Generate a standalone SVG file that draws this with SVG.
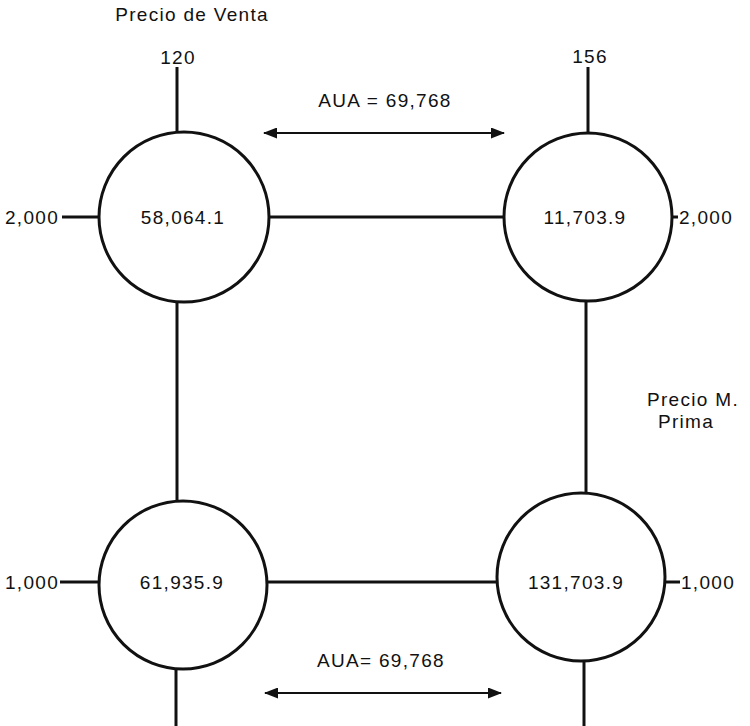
<svg xmlns="http://www.w3.org/2000/svg" width="750" height="726" viewBox="0 0 750 726">
<style>
.t{font-family:"Liberation Sans",Arial,sans-serif;font-size:19px;letter-spacing:1.3px;fill:#111}
.m{text-anchor:middle}
.e{text-anchor:end}
.n{fill:#fff;stroke:#111;stroke-width:3}
.c{stroke:#111;stroke-width:3;fill:none}
.a{stroke:#111;stroke-width:2.2;fill:none}
</style>
<defs>
<marker id="ah" viewBox="0 0 14 11" refX="13" refY="5.5" markerWidth="14" markerHeight="11" markerUnits="userSpaceOnUse" orient="auto-start-reverse">
<path d="M0,0 L14,5.5 L0,11 Z" fill="#111"/>
</marker>
</defs>
<rect width="750" height="726" fill="#fff"/>
<g id="connectors">
<line class="c" x1="177" y1="67" x2="177" y2="133"/>
<line class="c" x1="588" y1="67" x2="588" y2="133"/>
<line class="c" x1="62" y1="217" x2="99" y2="217"/>
<line class="c" x1="268" y1="217" x2="504" y2="217"/>
<line class="c" x1="672" y1="217" x2="678" y2="217"/>
<line class="c" x1="177" y1="301" x2="177" y2="502"/>
<line class="c" x1="586" y1="301" x2="586" y2="493"/>
<line class="c" x1="60" y1="582" x2="100" y2="582"/>
<line class="c" x1="266" y1="582" x2="497" y2="582"/>
<line class="c" x1="665" y1="582" x2="680" y2="582"/>
<line class="c" x1="176" y1="668" x2="176" y2="726"/>
<line class="c" x1="584" y1="661" x2="584" y2="726"/>
<line class="a" x1="264" y1="133" x2="504" y2="133" marker-start="url(#ah)" marker-end="url(#ah)"/>
<line class="a" x1="265" y1="693" x2="501" y2="693" marker-start="url(#ah)" marker-end="url(#ah)"/>
</g>
<g id="n-tl">
<circle class="n" cx="184" cy="217" r="85"/>
<text class="t m" x="183" y="224">58,064.1</text>
</g>
<g id="n-tr">
<circle class="n" cx="588" cy="217" r="84"/>
<text class="t m" x="585" y="224">11,703.9</text>
</g>
<g id="n-bl">
<circle class="n" cx="183" cy="585" r="84"/>
<text class="t m" x="182" y="589">61,935.9</text>
</g>
<g id="n-br">
<circle class="n" cx="581" cy="577" r="84"/>
<text class="t m" x="576" y="589">131,703.9</text>
</g>
<g id="labels">
<text class="t m" x="192" y="21">Precio de Venta</text>
<text class="t m" x="178" y="64">120</text>
<text class="t m" x="590" y="63">156</text>
<text class="t m" x="385" y="107">AUA = 69,768</text>
<text class="t e" x="59" y="224">2,000</text>
<text class="t" x="679" y="224">2,000</text>
<text class="t m" x="693" y="406">Precio M.</text>
<text class="t m" x="686" y="428">Prima</text>
<text class="t e" x="59" y="589">1,000</text>
<text class="t" x="681" y="589">1,000</text>
<text class="t m" x="381" y="667">AUA= 69,768</text>
</g>
</svg>
